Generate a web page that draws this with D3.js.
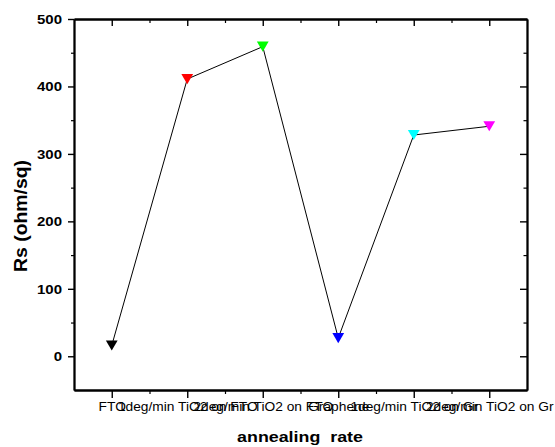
<!DOCTYPE html>
<html>
<head>
<meta charset="utf-8">
<script src="https://cdn.jsdelivr.net/npm/d3@7"></script>
<style>
  body { margin: 0; background: #fff; }
  svg { display: block; font-family: Arial, "Liberation Sans", sans-serif; }
</style>
</head>
<body>
<div id="chart"></div>
<script>
// data
const categories = [
  "FTO",
  "1deg/min TiO2 on FTO",
  "2deg/min TiO2 on FTO",
  "Graphene",
  "1deg/min TiO2 on Gr",
  "2deg/min TiO2 on Gr"
];
const rsValues = [16, 411, 459, 27, 328, 341];
const markerColors = ["#000000", "#ff0000", "#00ff00", "#0000ff", "#00ffff", "#ff00ff"];
const yMajorTicks = [0, 100, 200, 300, 400, 500];
const yMinorTicks = [50, 150, 250, 350, 450];

const width = 555, height = 447;
const plotLeft = 74, plotRight = 527, plotTop = 19, plotBottom = 390;

const svg = d3.select("#chart").append("svg")
  .attr("width", width)
  .attr("height", height);

// scales: categories sit at 1..6
const x = d3.scaleLinear().domain([0.5, 6.5]).range([plotLeft, plotRight]);
const y = d3.scaleLinear().domain([-50, 500]).range([plotBottom, plotTop]);

const idx = categories.map((d, i) => i + 1);
const minorX = idx.slice(0, -1).map((d) => d + 0.5);

function styleAxis(g, w) {
  g.select(".domain").attr("stroke", "#000").attr("stroke-width", 1.8);
  g.selectAll(".tick line").attr("stroke", "#000").attr("stroke-width", w);
}

// left axis: major ticks with labels, outward
const gLeft = svg.append("g")
  .attr("transform", `translate(${plotLeft},0)`)
  .call(d3.axisLeft(y).tickValues(yMajorTicks).tickSize(6).tickSizeOuter(0));
styleAxis(gLeft, 1.4);
gLeft.selectAll(".tick text")
  .attr("fill", "#000")
  .attr("font-size", 12.5)
  .attr("font-weight", "bold")
  .attr("dy", "0.36em")
  .attr("x", 0)
  .attr("transform", "translate(-12,0) scale(1.2,1)");

svg.append("g")
  .attr("transform", `translate(${plotLeft},0)`)
  .call(d3.axisLeft(y).tickValues(yMinorTicks).tickSize(3).tickFormat("").tickSizeOuter(0))
  .call((g) => styleAxis(g, 1.2));

// right axis: inward ticks, no labels
svg.append("g")
  .attr("transform", `translate(${plotRight},0)`)
  .call(d3.axisRight(y).tickValues(yMajorTicks).tickSize(-7).tickFormat("").tickSizeOuter(0))
  .call((g) => styleAxis(g, 1.4));
svg.append("g")
  .attr("transform", `translate(${plotRight},0)`)
  .call(d3.axisRight(y).tickValues(yMinorTicks).tickSize(-3.5).tickFormat("").tickSizeOuter(0))
  .call((g) => styleAxis(g, 1.2));

// top axis: inward ticks
svg.append("g")
  .attr("transform", `translate(0,${plotTop})`)
  .call(d3.axisTop(x).tickValues(idx).tickSize(-7).tickFormat("").tickSizeOuter(0))
  .call((g) => styleAxis(g, 1.4));
svg.append("g")
  .attr("transform", `translate(0,${plotTop})`)
  .call(d3.axisTop(x).tickValues(minorX).tickSize(-4).tickFormat("").tickSizeOuter(0))
  .call((g) => styleAxis(g, 1.2));

// bottom axis: outward ticks with category names
const gBottom = svg.append("g")
  .attr("transform", `translate(0,${plotBottom})`)
  .call(d3.axisBottom(x).tickValues(idx).tickSize(8).tickSizeOuter(0)
    .tickFormat((d) => categories[d - 1]));
styleAxis(gBottom, 1.4);
gBottom.selectAll(".tick text")
  .attr("fill", "#000")
  .attr("font-size", 13)
  .attr("y", 0)
  .attr("dy", null)
  .attr("transform", "translate(0,20.5) scale(1.06,1)");

svg.append("g")
  .attr("transform", `translate(0,${plotBottom})`)
  .call(d3.axisBottom(x).tickValues(minorX).tickSize(4).tickFormat("").tickSizeOuter(0))
  .call((g) => styleAxis(g, 1.2));

// axis titles
svg.append("text")
  .attr("transform", "translate(300,442) scale(1.19,1)")
  .attr("text-anchor", "middle")
  .attr("font-size", 15)
  .attr("font-weight", "bold")
  .style("white-space", "pre")
  .text("annealing  rate");

svg.append("text")
  .attr("transform", "translate(26.5,216) rotate(-90)")
  .attr("text-anchor", "middle")
  .attr("font-size", 18)
  .attr("font-weight", "bold")
  .attr("textLength", 112)
  .attr("lengthAdjust", "spacingAndGlyphs")
  .text("Rs (ohm/sq)");

// connecting line
const line = d3.line()
  .x((d, i) => x(i + 1))
  .y((d) => y(d));

svg.append("path")
  .datum(rsValues)
  .attr("fill", "none")
  .attr("stroke", "#000")
  .attr("stroke-width", 1)
  .attr("d", line);

// down-pointing triangle centred on its bounding box
const triangleDown = {
  draw(context, size) {
    const w = Math.sqrt(size * 4 / Math.sqrt(3));
    const h = w * Math.sqrt(3) / 2;
    context.moveTo(-w / 2, -h / 2);
    context.lineTo(w / 2, -h / 2);
    context.lineTo(0, h / 2);
    context.closePath();
  }
};

svg.append("g")
  .selectAll("path")
  .data(rsValues)
  .join("path")
  .attr("transform", (d, i) => `translate(${x(i + 1)},${y(d)})`)
  .attr("d", d3.symbol().type(triangleDown).size(60))
  .attr("fill", (d, i) => markerColors[i]);
</script>
</body>
</html>
